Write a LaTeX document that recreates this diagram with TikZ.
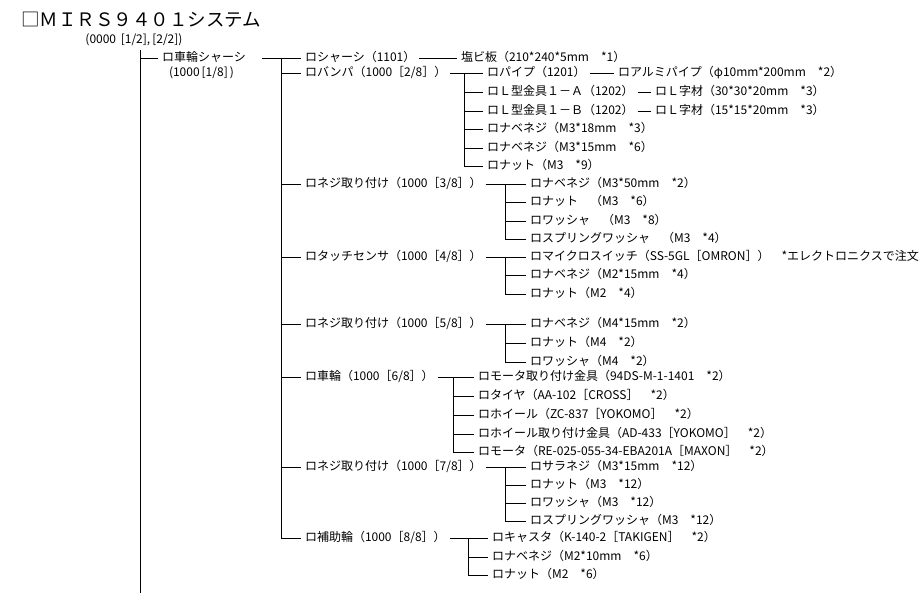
\documentclass[tikz,border=0pt]{standalone}
\usepackage{fontspec}
\setmainfont{Noto Sans CJK JP}
\begin{document}
\begin{tikzpicture}[x=1pt,y=-1pt,line width=0.9pt,
  item/.style={anchor=west,inner sep=0pt,outer xsep=4pt,text height=9pt,text depth=2.5pt,font=\fontsize{12}{14}\selectfont},
  conn/.style={draw=black,line width=0.9pt}]
\useasboundingbox (0,0) rectangle (923,593);
% title
\node[anchor=west,inner sep=0pt,font=\fontsize{18.5}{20}\selectfont] (title) at (21,20) {□ＭＩＲＳ９４０１システム};
\node[anchor=west,inner sep=0pt,font=\fontsize{12}{14}\selectfont] (sub) at (85,40) {(0000\, [1/2],\,[2/2])};
% level 0 trunk
\coordinate (t0) at (140,50);
\coordinate (t0b) at (140,593);
\draw[conn] (t0) -- (t0b);
% level 1
\node[item] (root) at (158,58) {ロ車輪シャーシ　};
\node[item] (rootsub) at (165,73) {(1000\,[1/8]\,)};
\draw[conn] (t0 |- root.west) -- (root.west);
\coordinate (t1) at (281,58);
\draw[conn] (root.east) -- (t1);
% level 2
\node[item] (a) at (301,58) {ロシャーシ（1101）};
\node[item] (b) at (301,73) {ロバンパ（1000［2/8］）};
\node[item] (c) at (301,184) {ロネジ取り付け（1000［3/8］）};
\node[item] (d) at (301,257) {ロタッチセンサ（1000［4/8］）};
\node[item] (e) at (301,324) {ロネジ取り付け（1000［5/8］）};
\node[item] (f) at (301,377) {ロ車輪（1000［6/8］）};
\node[item] (g) at (301,467) {ロネジ取り付け（1000［7/8］）};
\node[item] (h) at (301,538) {ロ補助輪（1000［8/8］）};
\draw[conn] (t1) -- (t1 |- h.west);
\foreach \n in {a,b,c,d,e,f,g,h} \draw[conn] (t1 |- \n.west) -- (\n.west);
% a
\node[item] (a1) at (457,58) {塩ビ板（210*240*5mm　*1）};
\draw[conn] (a.east) -- (a1.west);
% b
\coordinate (tb) at (464,73);
\node[item] (b1) at (483,73) {ロパイプ（1201）};
\node[item] (b2) at (483,92) {ロＬ型金具１－Ａ（1202）};
\node[item] (b3) at (483,111) {ロＬ型金具１－Ｂ（1202）};
\node[item] (b4) at (483,129) {ロナベネジ（M3*18mm　*3）};
\node[item] (b5) at (483,148) {ロナベネジ（M3*15mm　*6）};
\node[item] (b6) at (483,166) {ロナット（M3　*9）};
\draw[conn] (b.east) -- (tb);
\draw[conn] (tb) -- (tb |- b6.west);
\foreach \n in {b1,b2,b3,b4,b5,b6} \draw[conn] (tb |- \n.west) -- (\n.west);
\node[item] (b11) at (614,73) {ロアルミパイプ（φ10mm*200mm　*2）};
\node[item] (b21) at (651,92) {ロＬ字材（30*30*20mm　*3）};
\node[item] (b31) at (651,111) {ロＬ字材（15*15*20mm　*3）};
\draw[conn] (b1.east) -- (b11.west);
\draw[conn] (b2.east) -- (b21.west);
\draw[conn] (b3.east) -- (b31.west);
% c
\coordinate (tc) at (505,184);
\node[item] (c1) at (526,184) {ロナベネジ（M3*50mm　*2）};
\node[item] (c2) at (526,202) {ロナット　（M3　*6）};
\node[item] (c3) at (526,221) {ロワッシャ　（M3　*8）};
\node[item] (c4) at (526,239) {ロスプリングワッシャ　（M3　*4）};
\draw[conn] (c.east) -- (tc);
\draw[conn] (tc) -- (tc |- c4.west);
\foreach \n in {c1,c2,c3,c4} \draw[conn] (tc |- \n.west) -- (\n.west);
% d
\coordinate (td) at (505,257);
\node[item] (d1) at (526,257) {ロマイクロスイッチ（SS-5GL［OMRON］）　*エレクトロニクスで注文};
\node[item] (d2) at (526,275) {ロナベネジ（M2*15mm　*4）};
\node[item] (d3) at (526,294) {ロナット（M2　*4）};
\draw[conn] (d.east) -- (td);
\draw[conn] (td) -- (td |- d3.west);
\foreach \n in {d1,d2,d3} \draw[conn] (td |- \n.west) -- (\n.west);
% e
\coordinate (te) at (505,324);
\node[item] (e1) at (526,324) {ロナベネジ（M4*15mm　*2）};
\node[item] (e2) at (526,343) {ロナット（M4　*2）};
\node[item] (e3) at (526,362) {ロワッシャ（M4　*2）};
\draw[conn] (e.east) -- (te);
\draw[conn] (te) -- (te |- e3.west);
\foreach \n in {e1,e2,e3} \draw[conn] (te |- \n.west) -- (\n.west);
% f
\coordinate (tf) at (453,377);
\node[item] (f1) at (474,377) {ロモータ取り付け金具（94DS-M-1-1401　*2）};
\node[item] (f2) at (474,396) {ロタイヤ（AA-102［CROSS］　*2）};
\node[item] (f3) at (474,415) {ロホイール（ZC-837［YOKOMO］　*2）};
\node[item] (f4) at (474,434) {ロホイール取り付け金具（AD-433［YOKOMO］　*2）};
\node[item] (f5) at (474,452) {ロモータ（RE-025-055-34-EBA201A［MAXON］　*2）};
\draw[conn] (f.east) -- (tf);
\draw[conn] (tf) -- (tf |- f5.west);
\foreach \n in {f1,f2,f3,f4,f5} \draw[conn] (tf |- \n.west) -- (\n.west);
% g
\coordinate (tg) at (505,467);
\node[item] (g1) at (526,467) {ロサラネジ（M3*15mm　*12）};
\node[item] (g2) at (526,485) {ロナット（M3　*12）};
\node[item] (g3) at (526,503) {ロワッシャ（M3　*12）};
\node[item] (g4) at (526,521) {ロスプリングワッシャ（M3　*12）};
\draw[conn] (g.east) -- (tg);
\draw[conn] (tg) -- (tg |- g4.west);
\foreach \n in {g1,g2,g3,g4} \draw[conn] (tg |- \n.west) -- (\n.west);
% h
\coordinate (th) at (468,538);
\node[item] (h1) at (488,538) {ロキャスタ（K-140-2［TAKIGEN］　*2）};
\node[item] (h2) at (488,557) {ロナベネジ（M2*10mm　*6）};
\node[item] (h3) at (488,575) {ロナット（M2　*6）};
\draw[conn] (h.east) -- (th);
\draw[conn] (th) -- (th |- h3.west);
\foreach \n in {h1,h2,h3} \draw[conn] (th |- \n.west) -- (\n.west);
\end{tikzpicture}
\end{document}
